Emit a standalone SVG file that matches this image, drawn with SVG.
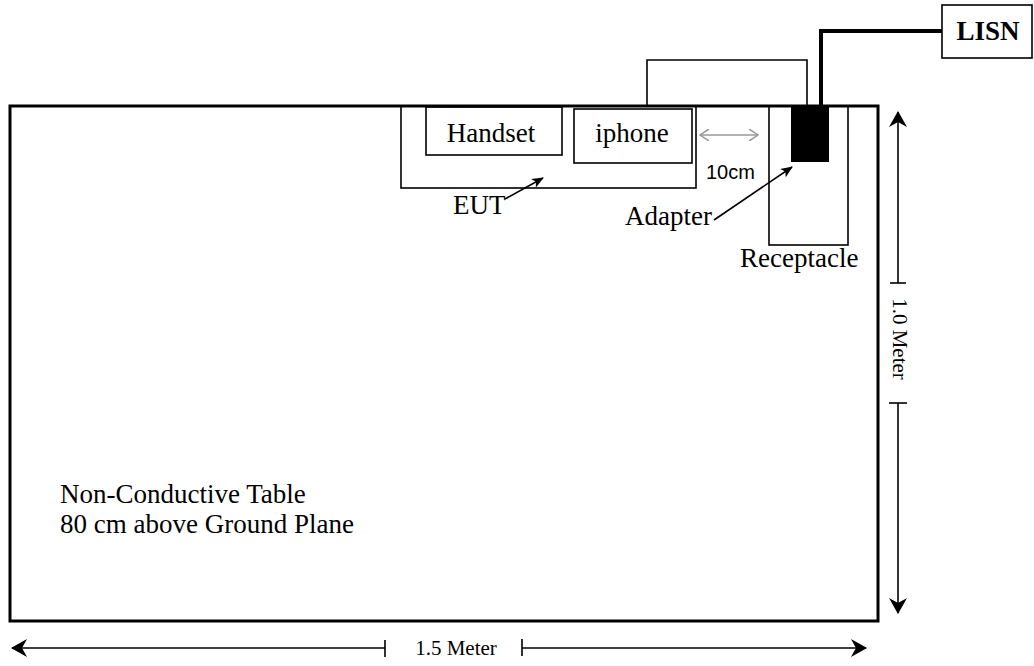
<svg xmlns="http://www.w3.org/2000/svg" width="1034" height="666" viewBox="0 0 1034 666">
<style>
.box{fill:none;stroke:#000;stroke-width:1.6}
.t{font-family:"Liberation Serif",serif;font-size:27px;fill:#000}
.s{font-family:"Liberation Sans",sans-serif;font-size:20px;fill:#000}
.d{font-family:"Liberation Serif",serif;font-size:21px;fill:#000}
.ln{stroke:#000;stroke-width:1.6;fill:none}
</style>
<defs>
<marker id="ah" viewBox="0 0 12 10" refX="11" refY="5" markerWidth="12" markerHeight="10" markerUnits="userSpaceOnUse" orient="auto-start-reverse">
<path d="M0,0 L12,5 L0,10 L3,5 Z" fill="#000"/>
</marker>
<marker id="dh" viewBox="0 0 16 18" refX="15" refY="9" markerWidth="16" markerHeight="18" markerUnits="userSpaceOnUse" orient="auto-start-reverse">
<path d="M0,0 L16,9 L0,18 L5,9 Z" fill="#000"/>
</marker>
<marker id="gh" viewBox="0 0 10 12" refX="9" refY="6" markerWidth="10" markerHeight="12" markerUnits="userSpaceOnUse" orient="auto-start-reverse">
<path d="M0,0 L9,6 L0,12" fill="none" stroke="#999" stroke-width="1.5"/>
</marker>
</defs>
<g id="table">
<rect x="10" y="106" width="868" height="515" fill="#fff" stroke="#000" stroke-width="3"/>
<text class="t" x="60" y="503">Non-Conductive Table</text>
<text class="t" x="60" y="533">80 cm above Ground Plane</text>
</g>
<g id="eut">
<rect class="box" x="401" y="106" width="295" height="82"/>
<text class="t" x="453" y="214">EUT</text>
</g>
<g id="handset">
<rect class="box" x="426" y="107" width="136" height="48"/>
<text class="t" x="491" y="142" text-anchor="middle">Handset</text>
</g>
<g id="iphone">
<rect class="box" x="574" y="109" width="118" height="54"/>
<text class="t" x="632" y="142" text-anchor="middle">iphone</text>
</g>
<g id="receptacle">
<rect class="box" x="769" y="106" width="79" height="139"/>
<text class="t" x="740" y="267" font-size="26">Receptacle</text>
</g>
<g id="adapter">
<rect x="791" y="106" width="38" height="56" fill="#000"/>
<text class="t" x="625" y="225">Adapter</text>
</g>
<g id="lisn">
<rect x="942" y="5" width="90" height="53" fill="#fff" stroke="#000" stroke-width="1.6"/>
<text class="t" x="988" y="40" text-anchor="middle" font-weight="bold" font-size="24">LISN</text>
</g>
<g id="connectors">
<polyline class="ln" points="647,106 647,60 807,60 807,106"/>
<polyline points="821,106 821,31 942,31" fill="none" stroke="#000" stroke-width="4"/>
<line x1="505" y1="199" x2="543" y2="178" stroke="#000" stroke-width="1.6" marker-end="url(#ah)"/>
<line x1="714" y1="220" x2="792" y2="167" stroke="#000" stroke-width="1.6" marker-end="url(#ah)"/>
<line x1="700" y1="135" x2="758" y2="135" stroke="#999" stroke-width="1.5" marker-start="url(#gh)" marker-end="url(#gh)"/>
<text class="s" x="706" y="179">10cm</text>
<line class="ln" x1="898" y1="112" x2="898" y2="283" marker-start="url(#dh)"/>
<line class="ln" x1="890" y1="283" x2="906" y2="283"/>
<line class="ln" x1="898" y1="403" x2="898" y2="613" marker-end="url(#dh)"/>
<line class="ln" x1="889" y1="403" x2="907" y2="403"/>
<text class="d" transform="translate(893,339) rotate(90)" text-anchor="middle">1.0 Meter</text>
<line class="ln" x1="12" y1="648" x2="385" y2="648" marker-start="url(#dh)"/>
<line class="ln" x1="385" y1="640" x2="385" y2="657"/>
<line class="ln" x1="522" y1="648" x2="866" y2="648" marker-end="url(#dh)"/>
<line class="ln" x1="522" y1="639" x2="522" y2="656"/>
<text class="d" x="456" y="655" text-anchor="middle">1.5 Meter</text>
</g>
</svg>
